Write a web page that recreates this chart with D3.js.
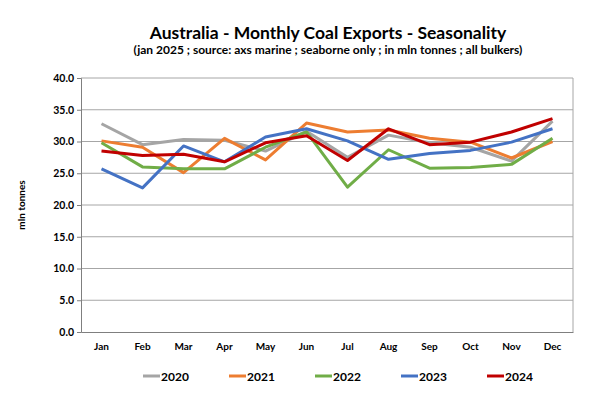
<!DOCTYPE html>
<html>
<head>
<meta charset="utf-8">
<script src="https://cdn.jsdelivr.net/npm/d3@7"></script>
<style>
  body { margin: 0; background: #fff; }
  svg { display: block; font-family: Lato, "Open Sans", sans-serif; }
</style>
</head>
<body>
<div id="chart"></div>
<script>
const months = ["Jan","Feb","Mar","Apr","May","Jun","Jul","Aug","Sep","Oct","Nov","Dec"];
const years = ["2020","2021","2022","2023","2024"];
const yTicks = [0,5,10,15,20,25,30,35,40];

const s2020 = [32.8,29.5,30.3,30.2,28.5,31.6,27.5,31.0,29.8,29.1,26.9,33.2];
const s2021 = [30.1,29.1,25.1,30.5,27.1,32.9,31.5,31.8,30.5,29.9,27.4,30.0];
const s2022 = [29.8,26.0,25.7,25.7,29.1,31.5,22.8,28.7,25.8,25.9,26.4,30.5];
const s2023 = [25.7,22.7,29.3,26.8,30.7,32.0,30.1,27.2,28.1,28.6,29.9,32.0];
const s2024 = [28.5,27.8,28.0,26.8,29.8,30.9,27.0,32.0,29.5,29.9,31.5,33.6];

const seriesValues = [s2020, s2021, s2022, s2023, s2024];
const colors = ["#a5a5a5","#ed7d31","#70ad47","#4472c4","#c00000"];

const W = 600, H = 397;
const m = {left: 81, right: 27, top: 78, bottom: 65};
const iw = W - m.left - m.right, ih = H - m.top - m.bottom;

const svg = d3.select("#chart").append("svg")
    .attr("width", W).attr("height", H);

svg.append("text")
    .attr("x", 328).attr("y", 39)
    .attr("text-anchor", "middle")
    .attr("font-size", "17.5px").attr("font-weight", "bold")
    .attr("fill", "#000")
    .text("Australia - Monthly Coal Exports - Seasonality");
svg.append("text")
    .attr("x", 328).attr("y", 54)
    .attr("text-anchor", "middle")
    .attr("font-size", "12px").attr("font-weight", "bold")
    .attr("fill", "#000")
    .text("(jan 2025 ; source: axs marine ; seaborne only ; in mln tonnes ; all bulkers)");

const g = svg.append("g").attr("transform", "translate(" + m.left + "," + m.top + ")");

const x = d3.scaleBand().domain(months).range([0, iw]);
const y = d3.scaleLinear().domain([0, 40]).range([ih, 0]);

// gridlines
g.selectAll(".grid")
    .data(yTicks.filter(d => d > 0))
    .enter().append("line")
    .attr("x1", 0).attr("x2", iw)
    .attr("y1", d => y(d)).attr("y2", d => y(d))
    .attr("stroke", "#a6a6a6").attr("stroke-width", 1);
// right border of plot
g.append("line")
    .attr("x1", iw).attr("x2", iw).attr("y1", 0).attr("y2", ih)
    .attr("stroke", "#a6a6a6");

// y axis
const yAxis = g.append("g")
    .call(d3.axisLeft(y).tickValues(yTicks).tickFormat(d3.format(".1f")).tickSize(4).tickPadding(3));
yAxis.select(".domain").attr("stroke", "#7f7f7f");
yAxis.selectAll(".tick line").attr("stroke", "#7f7f7f");
yAxis.selectAll("text").attr("font-size", "10.5px").attr("font-weight", "bold").attr("fill", "#000")
    .attr("font-family", "Lato, sans-serif");

// x axis
const xAxis = g.append("g")
    .attr("transform", "translate(0," + ih + ")")
    .call(d3.axisBottom(x).tickSize(0).tickPadding(11));
xAxis.select(".domain").attr("stroke", "#7f7f7f");
xAxis.selectAll("text").attr("font-size", "10px").attr("font-weight", "bold").attr("fill", "#000")
    .attr("font-family", "Lato, sans-serif");

svg.append("text")
    .attr("transform", "translate(25,205) rotate(-90)")
    .attr("text-anchor", "middle")
    .attr("font-size", "10px").attr("font-weight", "bold")
    .text("mln tonnes");

const line = d3.line()
    .x((d, i) => x(months[i]) + x.bandwidth() / 2)
    .y(d => y(d));

g.selectAll(".series")
    .data(seriesValues)
    .enter().append("path")
    .attr("fill", "none")
    .attr("stroke", (d, i) => colors[i])
    .attr("stroke-width", 3)
    .attr("stroke-linejoin", "round")
    .attr("d", d => line(d));

// legend
const legend = svg.append("g").attr("transform", "translate(143,376)");
const item = legend.selectAll(".item")
    .data(years)
    .enter().append("g")
    .attr("transform", (d, i) => "translate(" + (i * 86) + ",0)");
item.append("line")
    .attr("x1", 0).attr("x2", 17).attr("y1", 0).attr("y2", 0)
    .attr("stroke", (d, i) => colors[i]).attr("stroke-width", 3);
item.append("text")
    .attr("x", 18).attr("y", 4.5)
    .attr("font-size", "12px").attr("font-weight", "bold")
    .text(d => d);
</script>
</body>
</html>
